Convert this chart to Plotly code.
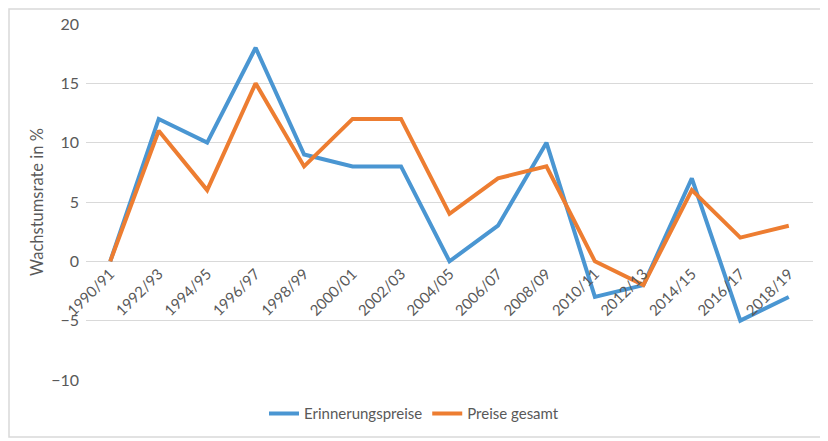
import plotly.graph_objects as go

categories = ["1990/91", "1992/93", "1994/95", "1996/97", "1998/99", "2000/01", "2002/03",
              "2004/05", "2006/07", "2008/09", "2010/11", "2012/13", "2014/15", "2016/17", "2018/19"]
erinnerungspreise = [0, 12, 10, 18, 9, 8, 8, 0, 3, 10, -3, -2, 7, -5, -3]
preise_gesamt = [0, 11, 6, 15, 8, 12, 12, 4, 7, 8, 0, -2, 6, 2, 3]
y_ticks = [-10, -5, 0, 5, 10, 15, 20]

FONT = "Lato"
TXT = "#595959"

fig = go.Figure()
fig.add_trace(go.Scatter(x=categories, y=erinnerungspreise, mode="lines", name="Erinnerungspreise",
                         line=dict(color="#4A96D2", width=4)))
fig.add_trace(go.Scatter(x=categories, y=preise_gesamt, mode="lines", name="Preise gesamt",
                         line=dict(color="#ED7D31", width=4)))

# page body has an 8px margin, so the figure is offset by 8px
fig.update_layout(
    width=828, height=441,
    margin=dict(l=78, r=23, t=16, b=69, autoexpand=False),
    paper_bgcolor="white", plot_bgcolor="white",
    font=dict(family=FONT, color=TXT, size=15),
    showlegend=True,
    legend=dict(orientation="h", x=(414 - 86) / 727, xanchor="center",
                y=-0.095, yanchor="middle", font=dict(size=15, color=TXT)),
    xaxis=dict(type="category", range=[-0.5, 14.5], anchor="free", position=1/3,
               tickangle=-45, showgrid=False, showline=False, ticks="", automargin=False,
               tickmode="array", tickvals=categories, ticktext=categories,
               tickfont=dict(size=15, color=TXT)),
    yaxis=dict(range=[-10, 20], tickvals=y_ticks, showgrid=True, gridcolor="#D9D9D9", gridwidth=1,
               zeroline=False, showline=False, ticks="", automargin=False,
               ticklabelstandoff=6,
               tickfont=dict(size=16, color=TXT),
               title=dict(text="Wachstumsrate in %", font=dict(size=16.5, color=TXT), standoff=3)),
    shapes=[dict(type="rect", xref="paper", yref="paper",
                 x0=(9 - 86) / 727, x1=(824 - 86) / 727,
                 y0=(380 - 437) / 356, y1=(380 - 9) / 356,
                 line=dict(color="#D9D9D9", width=1.5), layer="below")],
)

fig.write_html("out.html")
